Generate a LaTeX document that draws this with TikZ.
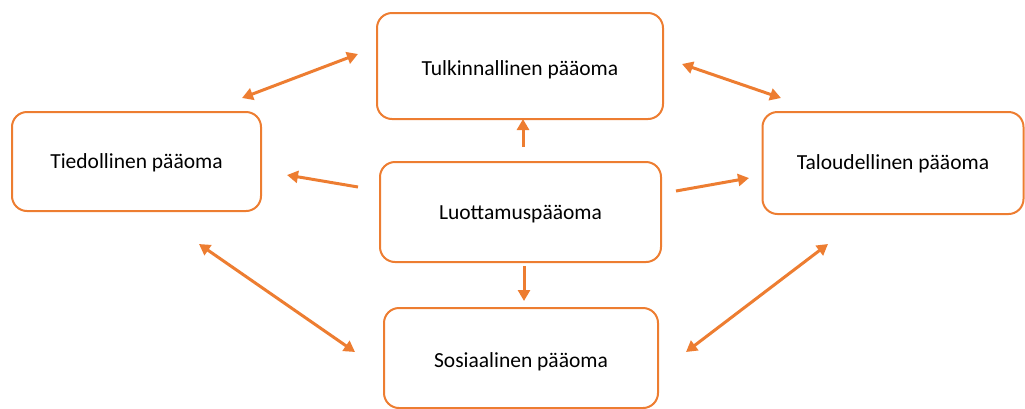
\documentclass[tikz,border=0pt]{standalone}
\usepackage{fontspec}
\setmainfont{Carlito}
\usetikzlibrary{arrows.meta}
\definecolor{org}{HTML}{ED7D31}
\begin{document}
\begin{tikzpicture}[x=1pt,y=-1pt,
  box/.style={draw=org,line width=2pt,rounded corners=15pt,minimum width=#1,inner sep=0pt},
  txt/.style={inner sep=0pt,font=\fontsize{21.5}{24}\selectfont,text=black},
  conn/.style={draw=org,line width=3pt,-{Triangle[length=11pt,width=12pt]}},
  bconn/.style={draw=org,line width=3pt,{Triangle[length=11pt,width=12pt]}-{Triangle[length=11pt,width=12pt]}}]
\useasboundingbox (0,0) rectangle (1025,408);
\node[box=286pt,minimum height=106pt] (tulk) at (520,66) {};
\node[box=249pt,minimum height=99pt] (tied) at (136.5,161.5) {};
\node[box=281pt,minimum height=100pt] (luot) at (520.5,212) {};
\node[box=261pt,minimum height=102pt] (talo) at (893,163) {};
\node[box=274pt,minimum height=100pt] (sos) at (521,358) {};
\node[txt] (tulkt) at ([yshift=-3.5pt]tulk.center) {Tulkinnallinen pääoma};
\node[txt] (tiedt) at ([yshift=-1pt]tied.center) {Tiedollinen pääoma};
\node[txt] (luott) at ([yshift=-1.7pt]luot.center) {Luottamuspääoma};
\node[txt] (talot) at ([yshift=-0.8pt]talo.center) {Taloudellinen pääoma};
\node[txt] (sost) at ([yshift=-4pt]sos.center) {Sosiaalinen pääoma};
% connector end points
\coordinate (a1) at (242,98); \coordinate (a2) at (358,54);
\coordinate (b1) at (682,64); \coordinate (b2) at (781,98);
\coordinate (c1) at (523,147); \coordinate (c2) at (523,119);
\coordinate (d1) at (358,187); \coordinate (d2) at (287,175);
\coordinate (e1) at (676,191); \coordinate (e2) at (749,178);
\coordinate (f1) at (524,266); \coordinate (f2) at (524,301);
\coordinate (g1) at (199,244); \coordinate (g2) at (355,352);
\coordinate (h1) at (828,244); \coordinate (h2) at (686,352);
\draw[bconn] (a1) -- (a2);
\draw[bconn] (b1) -- (b2);
\draw[conn] (c1) -- (c2);
\draw[conn] (d1) -- (d2);
\draw[conn] (e1) -- (e2);
\draw[conn] (f1) -- (f2);
\draw[bconn] (g1) -- (g2);
\draw[bconn] (h1) -- (h2);
\end{tikzpicture}
\end{document}
